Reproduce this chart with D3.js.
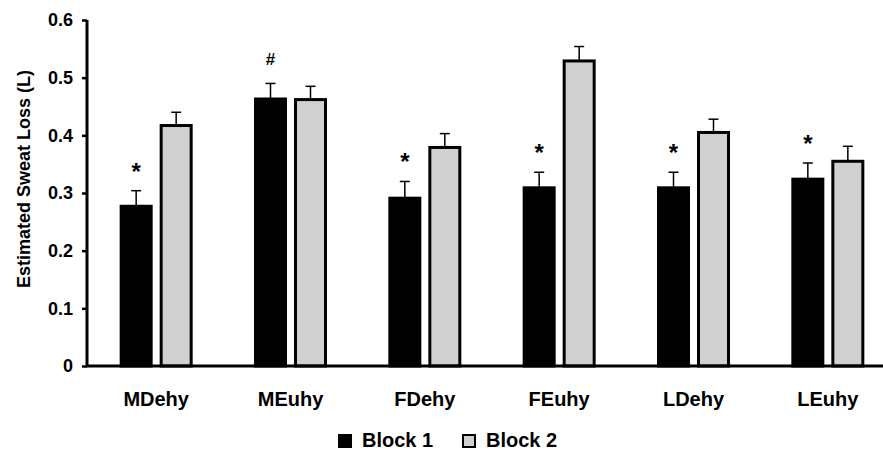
<!DOCTYPE html>
<html>
<head>
<meta charset="utf-8">
<script src="https://cdn.jsdelivr.net/npm/d3@7"></script>
<style>
  body { margin: 0; background: #fff; }
  text { font-family: "Liberation Sans", Arial, sans-serif; font-weight: bold; }
</style>
</head>
<body>
<div id="chart"></div>
<script>
// data
const groups = ["MDehy", "MEuhy", "FDehy", "FEuhy", "LDehy", "LEuhy"];
const series = ["Block 1", "Block 2"];
const block1 = [0.277, 0.463, 0.291, 0.309, 0.309, 0.324];
const block1Err = [0.027, 0.027, 0.029, 0.027, 0.027, 0.028];
const block2 = [0.417, 0.462, 0.379, 0.529, 0.405, 0.355];
const block2Err = [0.023, 0.023, 0.024, 0.025, 0.023, 0.026];
const marks = ["*", "#", "*", "*", "*", "*"]; // over Block 1
const yTicks = [0, 0.1, 0.2, 0.3, 0.4, 0.5, 0.6];

const W = 883, H = 452;
const colors = {"Block 1": "#000000", "Block 2": "#d0d0d0"};

const svg = d3.select("#chart").append("svg")
    .attr("width", W).attr("height", H);

const y = d3.scaleLinear().domain([0, 0.6]).range([366, 20]);
const x = d3.scaleBand().domain(groups).range([89, 895]);
const xIn = d3.scaleBand().domain(series).range([0, 70]).paddingInner(0.25);
const off = (x.bandwidth() - 70) / 2;

const rows = groups.map((g, i) => ({
  group: g,
  mark: marks[i],
  vals: [
    {key: "Block 1", v: block1[i], e: block1Err[i]},
    {key: "Block 2", v: block2[i], e: block2Err[i]}
  ]
}));

// y axis
const yAxis = svg.append("g")
    .attr("transform", "translate(87,0)")
    .call(d3.axisLeft(y).tickValues(yTicks).tickSize(5).tickSizeOuter(0)
      .tickFormat(d => d === 0 ? "0" : d3.format(".1f")(d)));
yAxis.select(".domain").attr("stroke-width", 3).attr("d", "M0," + y(0) + "V" + y(0.6));
yAxis.selectAll(".tick line").attr("stroke-width", 2.5);
yAxis.selectAll(".tick text").attr("font-size", 18).attr("fill", "#000").attr("x", -14);

svg.append("text")
    .attr("transform", "translate(30,179) rotate(-90)")
    .attr("text-anchor", "middle")
    .attr("font-size", 18)
    .text("Estimated Sweat Loss (L)");

// bars
const grp = svg.append("g").selectAll("g")
  .data(rows)
  .join("g")
    .attr("transform", d => "translate(" + (x(d.group) + off) + ",0)");

grp.selectAll("line.err")
  .data(d => d.vals)
  .join("line")
    .attr("class", "err")
    .attr("x1", d => xIn(d.key) + xIn.bandwidth() / 2)
    .attr("x2", d => xIn(d.key) + xIn.bandwidth() / 2)
    .attr("y1", d => y(d.v))
    .attr("y2", d => y(d.v + d.e))
    .attr("stroke", "#000").attr("stroke-width", 1.5);

grp.selectAll("line.cap")
  .data(d => d.vals)
  .join("line")
    .attr("class", "cap")
    .attr("x1", d => xIn(d.key) + xIn.bandwidth() / 2 - 5)
    .attr("x2", d => xIn(d.key) + xIn.bandwidth() / 2 + 5)
    .attr("y1", d => y(d.v + d.e))
    .attr("y2", d => y(d.v + d.e))
    .attr("stroke", "#000").attr("stroke-width", 1.5);

grp.selectAll("rect")
  .data(d => d.vals)
  .join("rect")
    .attr("x", d => xIn(d.key))
    .attr("y", d => y(d.v))
    .attr("width", xIn.bandwidth())
    .attr("height", d => y(0) - y(d.v))
    .attr("fill", d => colors[d.key])
    .attr("stroke", "#000").attr("stroke-width", 3);

grp.append("text")
    .attr("x", xIn("Block 1") + xIn.bandwidth() / 2)
    .attr("y", d => y(d.vals[0].v + d.vals[0].e) - (d.mark === "#" ? 18 : 11))
    .attr("text-anchor", "middle")
    .attr("font-size", d => d.mark === "#" ? 17 : 24)
    .text(d => d.mark);

// x axis
svg.append("line")
    .attr("x1", 86).attr("x2", 883)
    .attr("y1", y(0)).attr("y2", y(0))
    .attr("stroke", "#000").attr("stroke-width", 3);

svg.append("g").selectAll("text")
  .data(groups)
  .join("text")
    .attr("x", d => x(d) + x.bandwidth() / 2)
    .attr("y", 406)
    .attr("text-anchor", "middle")
    .attr("font-size", 20)
    .text(d => d);

// legend
const leg = svg.append("g").selectAll("g")
  .data(series)
  .join("g")
    .attr("transform", (d, i) => "translate(" + (338 + i * 124) + ",441)");
leg.append("rect")
    .attr("x", 1).attr("y", -6)
    .attr("width", 12).attr("height", 12)
    .attr("fill", d => colors[d])
    .attr("stroke", "#000").attr("stroke-width", 2);
leg.append("text")
    .attr("x", 24).attr("y", 6)
    .attr("font-size", 20)
    .text(d => d);
</script>
</body>
</html>
